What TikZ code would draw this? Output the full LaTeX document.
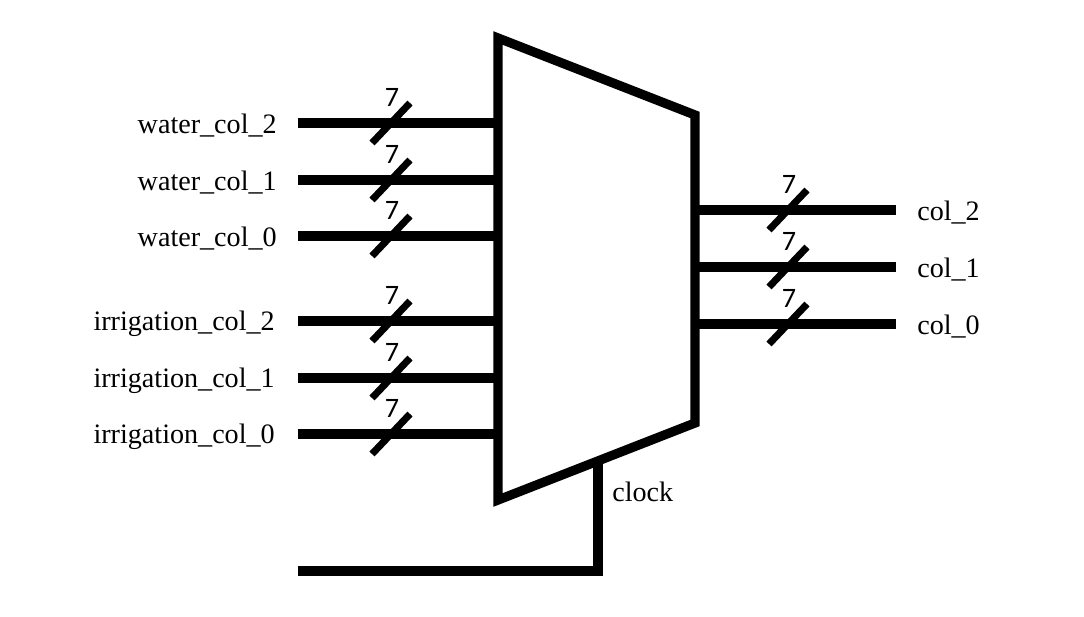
\documentclass[tikz,border=0pt]{standalone}
\usepackage{fontspec}
\setmainfont{Liberation Serif}
\newfontfamily\digitfont{Carlito}
\usetikzlibrary{positioning}
\tikzset{
  wire/.style = {line width=6.6pt},
  slash/.style = {line width=5pt},
  every node/.style = {font=\fontsize{20}{23}\selectfont, inner sep=0pt},
  widthlabel/.style = {font=\fontsize{20}{23}\selectfont\digitfont}
}
\begin{document}
\begin{tikzpicture}[x=0.025cm,y=-0.025cm]
\useasboundingbox (0,0) rectangle (1084,617);

\draw[wire, miter limit=10] (498,38) coordinate (mtl) -- (695,115) coordinate (mtr)
	-- (695,423) coordinate (mbr) -- (498,500) coordinate (mbl) -- cycle;

% inputs
\foreach \name/\ypos/\xlab/\txt in {wc2/123/277/water\_col\_2, wc1/180/277/water\_col\_1, wc0/236/277/water\_col\_0,
	ic2/321/275/irrigation\_col\_2, ic1/378/275/irrigation\_col\_1, ic0/434/275/irrigation\_col\_0}{
	\coordinate (\name start) at (298,\ypos);
	\coordinate (\name end) at (498,\ypos);
	\coordinate (\name mid) at (391,\ypos);
	\node[anchor=east] (\name label) at (\xlab,\ypos+2.5) {\txt};
	\node[widthlabel] (\name width) at (392,\ypos-26) {7};
	\draw[wire] (\name start) -- (\name end);
	\draw[slash] ([shift={(-19,20)}]\name mid) -- ([shift={(19,-20)}]\name mid);
}

% outputs
\foreach \name/\ypos/\txt in {c2/210/col\_2, c1/267/col\_1, c0/324/col\_0}{
	\coordinate (\name start) at (695,\ypos);
	\coordinate (\name end) at (896,\ypos);
	\coordinate (\name mid) at (788,\ypos);
	\node[anchor=west] (\name label) at (917,\ypos+2.5) {\txt};
	\node[widthlabel] (\name width) at (789,\ypos-26) {7};
	\draw[wire] (\name start) -- (\name end);
	\draw[slash] ([shift={(-19,20)}]\name mid) -- ([shift={(19,-20)}]\name mid);
}

% clock
\coordinate (clktop) at (598,462);
\coordinate (clkend) at (298,571);
\draw[wire] (clktop) |- (clkend);
\node[anchor=west] (clklabel) at (612,492) {clock};
\end{tikzpicture}
\end{document}
